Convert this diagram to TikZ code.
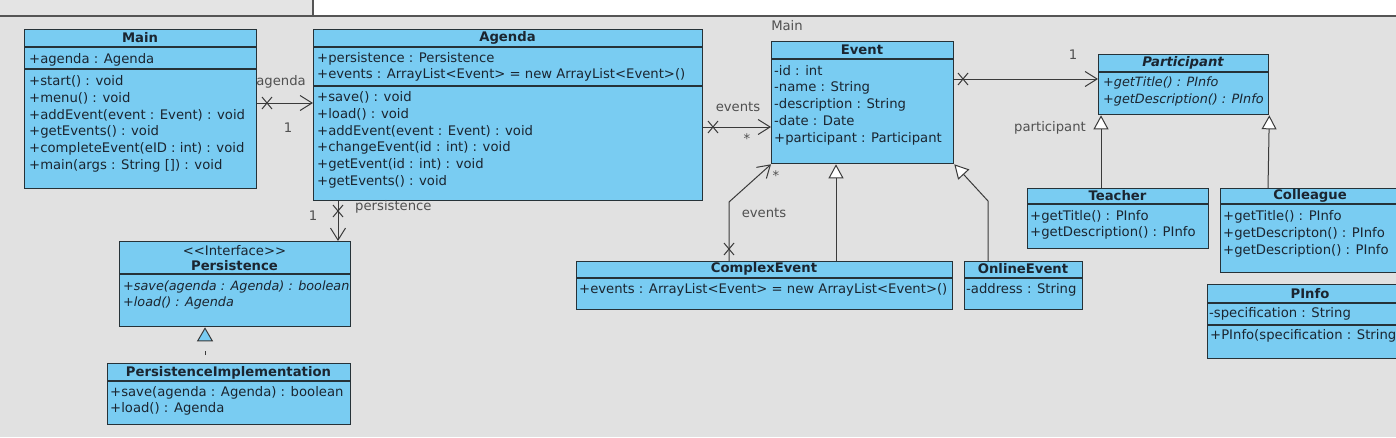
\documentclass[tikz,border=0pt]{standalone}
\usepackage{fontspec}
\setmainfont{DejaVu Sans}
\usetikzlibrary{arrows.meta}

\definecolor{canvas}{HTML}{E1E1E1}
\definecolor{topgray}{HTML}{E4E4E4}
\definecolor{barline}{HTML}{555555}
\definecolor{boxfill}{HTML}{79CCF2}
\definecolor{boxline}{HTML}{263238}
\definecolor{ink}{HTML}{1B2530}
\definecolor{wire}{HTML}{3A3A3A}
\definecolor{labelgray}{HTML}{505050}

% class box: name, x1, y1, x2, y2
\newcommand\umlclass[5]{%
  \node[classbox, minimum width={(#4-#2)*1pt}, minimum height={(#5-#3)*1pt}] (#1) at (#2,#3) {};}
% compartment rule across a class box at height y
\newcommand\umlrule[2]{\draw[divider] (#1.west |- 0,#2) -- (#1.east |- 0,#2);}

\begin{document}
\begin{tikzpicture}[x=1pt,y=-1pt,
  classbox/.style={draw=boxline, fill=boxfill, line width=1.3pt, inner sep=0pt, anchor=north west},
  divider/.style={boxline, line width=1.2pt},
  member/.style={anchor=west, inner sep=0pt, text=ink, font=\fontsize{13.2}{15}\selectfont},
  abstractmember/.style={member, font=\fontsize{12.8}{15}\selectfont\itshape},
  title/.style={inner sep=0pt, text=ink, font=\fontsize{13.2}{15}\selectfont\bfseries},
  rolelabel/.style={inner sep=0pt, text=labelgray, font=\fontsize{13.2}{15}\selectfont},
  wireline/.style={draw=wire, line width=1pt},
  assoc/.style={wireline, -{Straight Barb[length=12pt,width=15pt,line width=1pt]}},
  general/.style={wireline, -{Triangle[open, length=14pt, width=15pt, fill=white, line width=1pt]}},
  realize/.style={wireline, dash pattern=on 0pt off 8pt on 4pt off 30pt,
    -{Triangle[open, length=14pt, width=16pt, fill=boxfill, line width=1pt]}},
  nonnav/.pic={\draw[wire, line width=1pt] (-5,-6) -- (5,6) (-5,6) -- (5,-6);}
]
\useasboundingbox (0,0) rectangle (1396,437);
\clip (0,0) rectangle (1396,437);

% canvas and window strip
\fill[canvas] (0,0) rectangle (1396,437);
\fill[topgray] (0,0) rectangle (313,16);
\fill[white] (313,0) rectangle (1396,16);
\draw[barline, line width=1.4pt] (0,16) -- (1396,16);
\draw[barline, line width=1.4pt] (313,0) -- (313,16);

% ---------- Main ----------
\umlclass{main}{24}{29}{256}{188}
\umlrule{main}{47}
\umlrule{main}{69}
\node[title] (mainT) at (140,38) {Main};
\node[member] (mainA1) at (29,60) {+agenda : Agenda};
\node[member] (mainM1) at (29,81) {+start() : void};
\node[member] (mainM2) at (29,98) {+menu() : void};
\node[member] (mainM3) at (29,115) {+addEvent(event : Event) : void};
\node[member] (mainM4) at (29,132) {+getEvents() : void};
\node[member] (mainM5) at (29,149) {+completeEvent(eID : int) : void};
\node[member] (mainM6) at (29,166) {+main(args : String []) : void};

% ---------- Agenda ----------
\umlclass{agenda}{313}{29}{702}{200}
\umlrule{agenda}{47}
\umlrule{agenda}{86}
\node[title] (agendaT) at (507.5,38) {Agenda};
\node[member] (agendaA1) at (317,59) {+persistence : Persistence};
\node[member] (agendaA2) at (317,75) {+events : ArrayList<Event> = new ArrayList<Event>()};
\node[member] (agendaM1) at (317,97) {+save() : void};
\node[member] (agendaM2) at (317,114) {+load() : void};
\node[member] (agendaM3) at (317,131) {+addEvent(event : Event) : void};
\node[member] (agendaM4) at (317,148) {+changeEvent(id : int) : void};
\node[member] (agendaM5) at (317,165) {+getEvent(id : int) : void};
\node[member] (agendaM6) at (317,182) {+getEvents() : void};

% ---------- Event ----------
\umlclass{event}{771}{41}{953}{163}
\umlrule{event}{59}
\node[title] (eventT) at (862,50) {Event};
\node[member] (eventA1) at (774,71) {-id : int};
\node[member] (eventA2) at (774,88) {-name : String};
\node[member] (eventA3) at (774,105) {-description : String};
\node[member] (eventA4) at (774,121) {-date : Date};
\node[member] (eventA5) at (774,139) {+participant : Participant};

% ---------- Participant ----------
\umlclass{participant}{1098}{54}{1268}{114}
\umlrule{participant}{72}
\node[title, font=\fontsize{13.2}{15}\selectfont\bfseries\itshape] (participantT) at (1183,63) {Participant};
\node[abstractmember] (participantM1) at (1103,83) {+getTitle() : PInfo};
\node[abstractmember] (participantM2) at (1103,100) {+getDescription() : PInfo};

% ---------- Teacher ----------
\umlclass{teacher}{1027}{188}{1208}{248}
\umlrule{teacher}{204}
\node[title] (teacherT) at (1117.5,196) {Teacher};
\node[member] (teacherM1) at (1030,217) {+getTitle() : PInfo};
\node[member] (teacherM2) at (1030,233) {+getDescription() : PInfo};

% ---------- Colleague ----------
\umlclass{colleague}{1220}{188}{1400}{272}
\umlrule{colleague}{204}
\node[title] (colleagueT) at (1310,196) {Colleague};
\node[member] (colleagueM1) at (1223,217) {+getTitle() : PInfo};
\node[member] (colleagueM2) at (1223,234) {+getDescripton() : PInfo};
\node[member] (colleagueM3) at (1223,251) {+getDescription() : PInfo};

% ---------- PInfo ----------
\umlclass{pinfo}{1207}{284}{1413}{358}
\umlrule{pinfo}{303}
\umlrule{pinfo}{325}
\node[title] (pinfoT) at (1310,294) {PInfo};
\node[member] (pinfoA1) at (1209,314) {-specification : String};
\node[member] (pinfoM1) at (1210,336) {+PInfo(specification : String)};

% ---------- Persistence ----------
\umlclass{persist}{119}{241}{350}{326}
\umlrule{persist}{274}
\node[inner sep=0pt, text=ink, font=\fontsize{13.2}{15}\selectfont] (persistS) at (234.5,251) {<\kern0pt<Interface>\kern0pt>};
\node[title] (persistT) at (234.5,266) {Persistence};
\node[abstractmember] (persistM1) at (123,287) {+save(agenda : Agenda) : boolean};
\node[abstractmember] (persistM2) at (123,303) {+load() : Agenda};

% ---------- PersistenceImplementation ----------
\umlclass{pimpl}{107}{363}{350}{424}
\umlrule{pimpl}{381}
\node[title] (pimplT) at (228.5,373) {PersistenceImplementation};
\node[member] (pimplM1) at (110,393) {+save(agenda : Agenda) : boolean};
\node[member] (pimplM2) at (110,409) {+load() : Agenda};

% ---------- ComplexEvent ----------
\umlclass{complex}{576}{261}{952}{309}
\umlrule{complex}{278}
\node[title] (complexT) at (764,269) {ComplexEvent};
\node[member] (complexA1) at (579,290) {+events : ArrayList<Event> = new ArrayList<Event>()};

% ---------- OnlineEvent ----------
\umlclass{online}{964}{261}{1082}{309}
\umlrule{online}{278}
\node[title] (onlineT) at (1023,269) {OnlineEvent};
\node[member] (onlineA1) at (966,290) {-address : String};

% ---------- associations ----------
\draw[assoc] (main.east |- 0,103) -- (agenda.west |- 0,103);
\pic at (267,103) {nonnav};
\node[rolelabel] (lblAgenda) at (281,82) {agenda};
\node[rolelabel] (lblAgendaMult) at (288,128) {1};

\draw[assoc] (agenda.east |- 0,127) -- (event.west |- 0,127);
\pic at (713,127) {nonnav};
\node[rolelabel] (lblEvents) at (738,107) {events};
\node[rolelabel] (lblEventsMult) at (747,139) {*};

\draw[assoc] (event.east |- 0,79) -- (participant.west |- 0,79);
\pic at (963,79) {nonnav};
\node[rolelabel] (lblPartMult) at (1073,55) {1};

\draw[assoc] (agenda.south -| 338,0) -- (persist.north -| 338,0);
\pic at (338,211) {nonnav};
\node[rolelabel] (lblPersMult) at (313,216) {1};
\node[rolelabel, anchor=west] (lblPers) at (355,207) {persistence};

\coordinate (ceBend) at (729,202);
\draw[assoc] (complex.north -| 729,0) -- (ceBend) -- (event.south west);
\pic at (729,249) {nonnav};
\node[rolelabel] (lblCE) at (764,213) {events};
\node[rolelabel] (lblCEMult) at (776,176) {*};

\node[rolelabel] (lblMain) at (787,26) {Main};

% ---------- generalizations ----------
\draw[general] (teacher.north -| 1101,0) -- (participant.south -| 1101,0);
\node[rolelabel] (lblPart) at (1050,128) {participant};
\draw[general] (colleague.north -| 1268,0) -- (participant.south east);
\draw[general] (complex.north -| 836,0) -- (event.south -| 836,0);
\coordinate (oeBend) at (988,201);
\draw[general] (online.north -| 988,0) -- (oeBend) -- (event.south east);

% ---------- realization ----------
\draw[realize] (pimpl.north -| 205,0) -- (persist.south -| 205,0);
\end{tikzpicture}
\end{document}
